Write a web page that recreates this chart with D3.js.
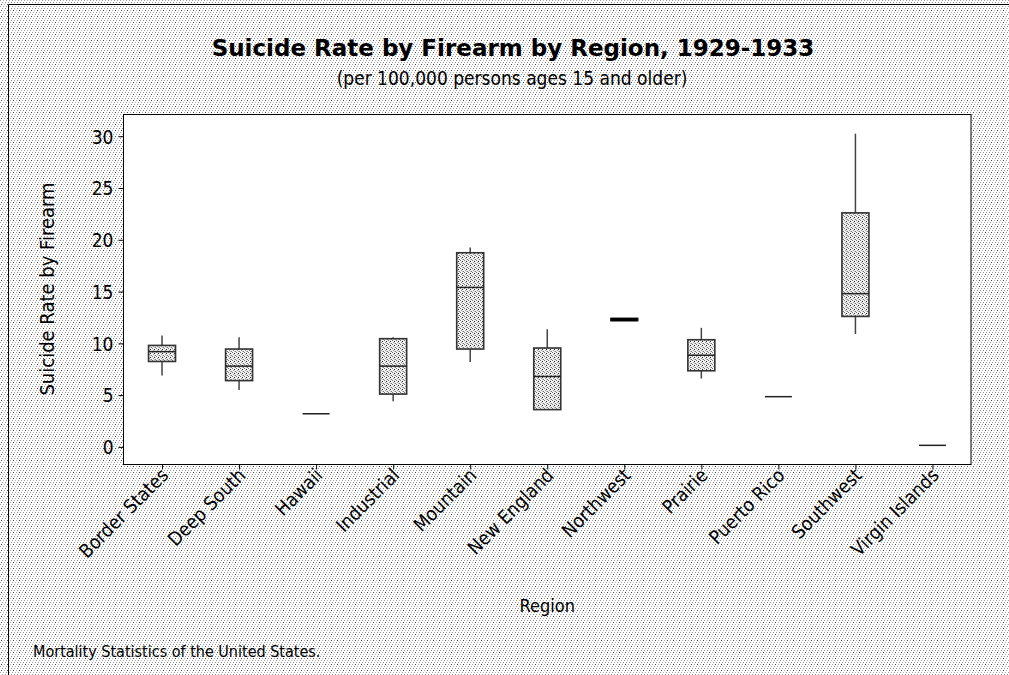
<!DOCTYPE html>
<html>
<head>
<meta charset="utf-8">
<script src="https://cdn.jsdelivr.net/npm/d3@7"></script>
<style>
  html, body { margin: 0; padding: 0; background: #fff; }
  svg { display: block; }
  text { font-family: "DejaVu Sans Condensed", "DejaVu Sans", sans-serif; font-stretch: condensed; fill: #000; }
  text.title { font-family: "DejaVu Sans", sans-serif; font-stretch: normal; }
</style>
</head>
<body>
<svg id="chart" width="1009" height="675"></svg>
<script>
// Firearm suicide rate per 100,000 (ages 15+), 1929-1933, summarised per region
const regions = ["Border States", "Deep South", "Hawaii", "Industrial", "Mountain",
  "New England", "Northwest", "Prairie", "Puerto Rico", "Southwest", "Virgin Islands"];
const whiskerLow  = [6.9, 5.5, 3.2, 4.4, 8.2, 3.6, 12.3, 6.6, 4.85, 10.9, 0.15];
const quartile1   = [8.25, 6.4, 3.2, 5.1, 9.45, 3.6, 12.2, 7.35, 4.85, 12.6, 0.15];
const medians     = [9.2, 7.8, 3.2, 7.8, 15.4, 6.8, 12.3, 8.85, 4.85, 14.8, 0.15];
const quartile3   = [9.8, 9.45, 3.2, 10.45, 18.75, 9.55, 12.4, 10.35, 4.85, 22.6, 0.15];
const whiskerHigh = [10.75, 10.6, 3.2, 10.6, 19.25, 11.35, 12.3, 11.5, 4.85, 30.25, 0.15];
const yTicks = [0, 5, 10, 15, 20, 25, 30];

const svg = d3.select("#chart");
const W = 1009, H = 675;
const frame = { left: 123.5, right: 971, top: 114.5, bottom: 464.5 };

const defs = svg.append("defs");
// speckled page background
const bg = defs.append("pattern").attr("id", "bgDots")
  .attr("width", 6).attr("height", 6).attr("patternUnits", "userSpaceOnUse");
bg.append("rect").attr("width", 6).attr("height", 6).attr("fill", "#fff");
[[0,0,"#9a9a9a"],[3,0,"#b0b0b0"],[2,2,"#9a9a9a"],[5,2,"#8c8c8c"],[4,4,"#a8a8a8"],[1,4,"#444"]]
  .forEach(([x, y, c]) => bg.append("rect").attr("x", x).attr("y", y)
    .attr("width", 1).attr("height", 1).attr("fill", c));

// stipple used inside the boxes
const st = defs.append("pattern").attr("id", "boxDots")
  .attr("width", 4).attr("height", 4).attr("patternUnits", "userSpaceOnUse");
st.append("rect").attr("width", 4).attr("height", 4).attr("fill", "#f2f2f2");
[[0,0,"#777"],[2,1,"#222"],[1,2,"#999"],[3,3,"#777"],[2,3,"#c0c0c0"]]
  .forEach(([x, y, c]) => st.append("rect").attr("x", x).attr("y", y)
    .attr("width", 1).attr("height", 1).attr("fill", c));

svg.append("rect").attr("width", W).attr("height", H).attr("fill", "url(#bgDots)")
  .attr("shape-rendering", "crispEdges");
// outer figure border
svg.append("path").attr("d", `M8.5,${H} V4.5 H${W}`)
  .attr("fill", "none").attr("stroke", "#000").attr("stroke-width", 1);

// plotting area
svg.append("rect")
  .attr("x", frame.left).attr("y", frame.top)
  .attr("width", frame.right - frame.left).attr("height", frame.bottom - frame.top)
  .attr("fill", "#fff").attr("stroke", "#000").attr("stroke-width", 1);

const x = d3.scalePoint().domain(regions).range([frame.left, frame.right]).padding(0.5);
const y = d3.scaleLinear().domain([-1.7, 32.1]).range([frame.bottom, frame.top]);

// axes
const yAxis = svg.append("g").attr("transform", `translate(${frame.left},0)`)
  .call(d3.axisLeft(y).tickValues(yTicks).tickSize(5).tickPadding(5).tickFormat(d3.format("d")));
yAxis.select(".domain").remove();
yAxis.selectAll("line").attr("stroke", "#000");
yAxis.selectAll("text").attr("font-family", null).attr("font-size", null)
  .style("font-size", "19px").attr("dy", "0.36em");

const xAxis = svg.append("g").attr("transform", `translate(0,${frame.bottom})`)
  .call(d3.axisBottom(x).tickSize(5).tickPadding(4));
xAxis.select(".domain").remove();
xAxis.selectAll("line").attr("stroke", "#000");
xAxis.selectAll("text")
  .attr("font-family", null).attr("font-size", null)
  .style("font-size", "19px")
  .attr("text-anchor", "end")
  .attr("dy", null).attr("y", null)
  .attr("transform", "translate(7,12) rotate(-45)");

// boxes
const boxW = 27;
const data = regions.map((r, i) => ({
  r, lo: whiskerLow[i], q1: quartile1[i], med: medians[i], q3: quartile3[i], hi: whiskerHigh[i]
}));
const g = svg.append("g");
data.forEach(d => {
  const cx = x(d.r);
  if (d.hi > d.q3) g.append("line").attr("x1", cx).attr("x2", cx)
    .attr("y1", y(d.hi)).attr("y2", y(d.q3)).attr("stroke", "#444").attr("stroke-width", 1.5);
  if (d.lo < d.q1) g.append("line").attr("x1", cx).attr("x2", cx)
    .attr("y1", y(d.lo)).attr("y2", y(d.q1)).attr("stroke", "#444").attr("stroke-width", 1.5);
  if (d.q3 > d.q1) {
    g.append("rect").attr("x", cx - boxW / 2).attr("width", boxW)
      .attr("y", y(d.q3)).attr("height", y(d.q1) - y(d.q3))
      .attr("fill", "url(#boxDots)").attr("stroke", "#333").attr("stroke-width", 1.6);
  }
  const thick = d.q3 > d.q1 && y(d.q1) - y(d.q3) < 4;
  g.append("line").attr("x1", cx - boxW / 2).attr("x2", cx + boxW / 2)
    .attr("y1", y(d.med)).attr("y2", y(d.med))
    .attr("stroke", thick ? "#000" : "#222").attr("stroke-width", thick ? 3.5 : 1.5);
});

// titles and labels
svg.append("text").attr("class", "title").attr("x", 513).attr("y", 56).attr("text-anchor", "middle")
  .style("font-size", "23px").style("font-weight", "bold")
  .text("Suicide Rate by Firearm by Region, 1929-1933");
svg.append("text").attr("x", 512).attr("y", 85).attr("text-anchor", "middle")
  .style("font-size", "19px")
  .text("(per 100,000 persons ages 15 and older)");
svg.append("text").attr("transform", `translate(54,289) rotate(-90)`)
  .attr("text-anchor", "middle").style("font-size", "20px")
  .text("Suicide Rate by Firearm");
svg.append("text").attr("x", (frame.left + frame.right) / 2).attr("y", 612)
  .attr("text-anchor", "middle").style("font-size", "18px").text("Region");
svg.append("text").attr("x", 33).attr("y", 657).style("font-size", "16px")
  .text("Mortality Statistics of the United States.");
</script>
</body>
</html>
